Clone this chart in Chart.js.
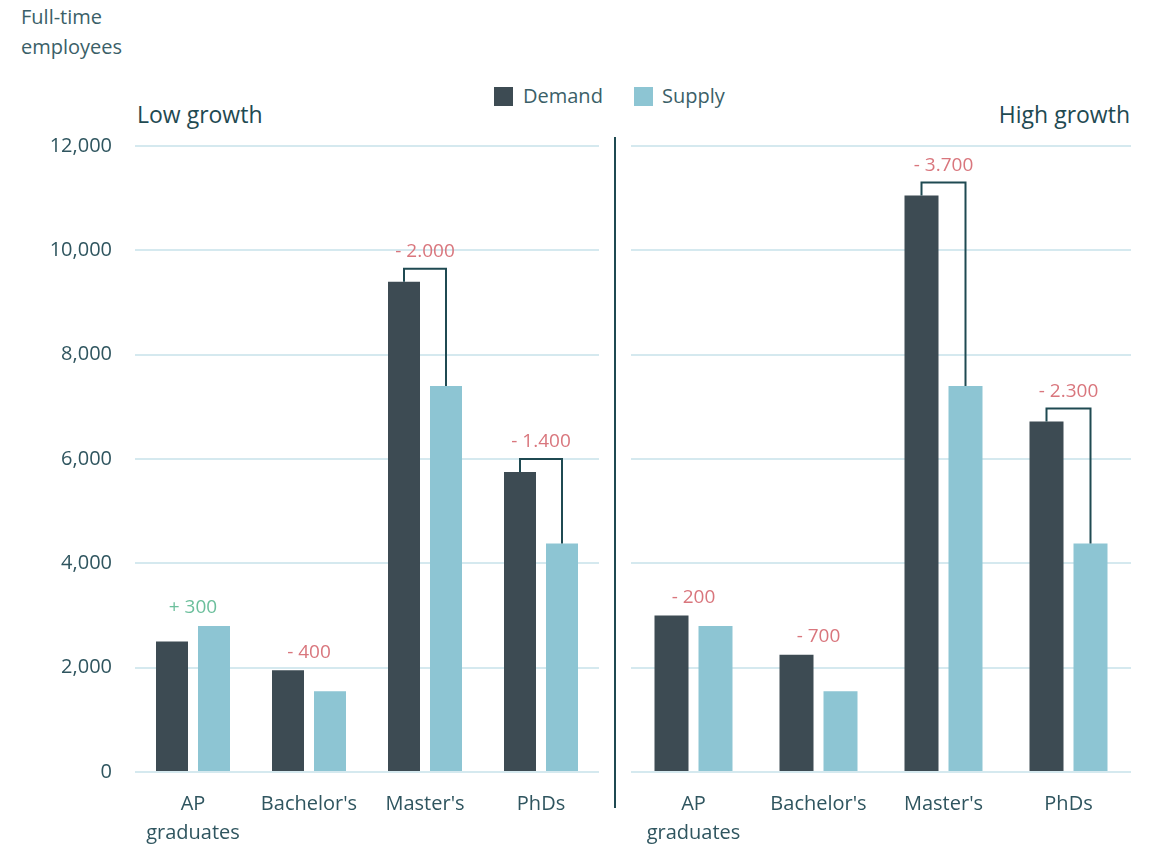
<!DOCTYPE html>
<html>
<head>
<meta charset="utf-8">
<title>Demand and supply of full-time employees</title>
<script src="https://cdn.jsdelivr.net/npm/chart.js@4/dist/chart.umd.min.js"></script>
<style>
  body { margin: 0; width: 1155px; height: 846px; background: #fff; position: relative; overflow: hidden; font-family: "Open Sans", sans-serif; }
  .txt { position: absolute; white-space: nowrap; margin: 0; }
  #unidade { left: 21px; top: 2px; font-size: 20px; line-height: 30px; color: #3b5f68; }
  .painel { top: 99px; font-size: 23px; line-height: 30px; color: #1f4a52; }
  #baixo { left: 137px; }
  #alto { right: 25px; }
  .leg { top: 81px; font-size: 20px; line-height: 30px; color: #3b5f68; }
  .quad { position: absolute; top: 87px; width: 19px; height: 19px; }
  canvas { position: absolute; top: 0; }
  #grafBaixo { left: 0; }
  #grafAlto { left: 600px; }
</style>
</head>
<body>
<div class="txt" id="unidade">Full-time<br>employees</div>
<div class="txt painel" id="baixo">Low growth</div>
<div class="txt painel" id="alto">High growth</div>
<div class="quad" style="left:494px; background:#3d4b53"></div>
<div class="txt leg" style="left:523px">Demand</div>
<div class="quad" style="left:634px; background:#8dc5d3"></div>
<div class="txt leg" style="left:662px">Supply</div>

<canvas id="grafBaixo" width="600" height="846"></canvas>
<canvas id="grafAlto" width="555" height="846"></canvas>

<script>
  // dados
  const categorias = [["AP", "graduates"], "Bachelor's", "Master's", "PhDs"];
  const oferta = [2800, 1550, 7400, 4380];
  const demandaBaixo = [2500, 1950, 9400, 5750];
  const demandaAlto = [3000, 2250, 11050, 6720];
  const ticksY = [0, 2000, 4000, 6000, 8000, 10000, 12000];

  const corDemanda = '#3d4b53';
  const corOferta = '#8dc5d3';
  const corTexto = '#2f555f';

  function formatarPonto(n) {
    return String(n).replace(/\B(?=(\d{3})+(?!\d))/g, '.');
  }

  // rótulos de diferença e colchetes entre as barras
  const diferencas = {
    id: 'diferencas',
    afterDatasetsDraw(chart) {
      const ctx = chart.ctx;
      const barrasD = chart.getDatasetMeta(0).data;
      const barrasO = chart.getDatasetMeta(1).data;
      const dem = chart.data.datasets[0].data;
      const ofe = chart.data.datasets[1].data;
      ctx.save();
      ctx.font = '19px "Open Sans"';
      ctx.textAlign = 'center';
      ctx.textBaseline = 'middle';
      barrasD.forEach((bd, i) => {
        const bo = barrasO[i];
        const diff = ofe[i] - dem[i];
        const arred = Math.round(Math.abs(diff) / 100) * 100;
        const texto = (diff >= 0 ? '+ ' : '- ') + formatarPonto(arred);
        const x = (bd.x + bo.x) / 2;
        const topo = Math.min(bd.y, bo.y);
        let yTexto;
        if (Math.abs(diff) >= 1000) {
          const yc = topo - 13;
          ctx.strokeStyle = '#1f4a52';
          ctx.lineWidth = 2;
          ctx.beginPath();
          ctx.moveTo(bd.x, bd.y);
          ctx.lineTo(bd.x, yc);
          ctx.lineTo(bo.x, yc);
          ctx.lineTo(bo.x, bo.y);
          ctx.stroke();
          yTexto = yc - 17;
        } else {
          yTexto = topo - 18;
        }
        ctx.fillStyle = diff >= 0 ? '#6cbf9c' : '#d9767d';
        ctx.fillText(texto, x, yTexto);
      });
      ctx.restore();
    }
  };

  // linha vertical que separa os dois cenários
  const divisoria = {
    id: 'divisoria',
    afterDraw(chart) {
      const ctx = chart.ctx;
      ctx.save();
      ctx.strokeStyle = '#1f4a52';
      ctx.lineWidth = 2;
      ctx.beginPath();
      ctx.moveTo(15, 137);
      ctx.lineTo(15, 808);
      ctx.stroke();
      ctx.restore();
    }
  };

  function opcoes(cp, bp, larguraY, padDir, mostrarY) {
    return {
      responsive: false,
      animation: false,
      layout: { padding: { top: 146, right: padDir, bottom: 0, left: 0 } },
      plugins: { legend: { display: false }, tooltip: { enabled: false } },
      datasets: { bar: { categoryPercentage: cp, barPercentage: bp } },
      scales: {
        x: {
          grid: { display: false },
          border: { display: false },
          ticks: {
            padding: 10, color: corTexto, maxRotation: 0, autoSkip: false,
            font: { family: 'Open Sans', size: 20, lineHeight: 1.45 }
          },
          afterFit: s => { s.height = 74; }
        },
        y: {
          min: 0, max: 12000,
          border: { display: false },
          grid: { color: '#d5e9ef', lineWidth: 2, drawTicks: false },
          afterBuildTicks: s => { s.ticks = ticksY.map(v => ({ value: v })); },
          ticks: {
            display: mostrarY, padding: 23, color: corTexto,
            font: { family: 'Open Sans', size: 20 },
            callback: v => v.toLocaleString('en-US')
          },
          afterFit: s => { s.width = larguraY; }
        }
      }
    };
  }

  function dadosPara(demanda) {
    return {
      labels: categorias,
      datasets: [
        { label: 'Demand', data: demanda, backgroundColor: corDemanda },
        { label: 'Supply', data: oferta, backgroundColor: corOferta }
      ]
    };
  }

  new Chart(document.getElementById('grafBaixo'), {
    type: 'bar',
    data: dadosPara(demandaBaixo),
    options: opcoes(84 / 116, 32 / 42, 135, 1, true),
    plugins: [diferencas]
  });

  new Chart(document.getElementById('grafAlto'), {
    type: 'bar',
    data: dadosPara(demandaAlto),
    options: opcoes(88 / 125, 34 / 44, 31, 24, false),
    plugins: [diferencas, divisoria]
  });
</script>
</body>
</html>
